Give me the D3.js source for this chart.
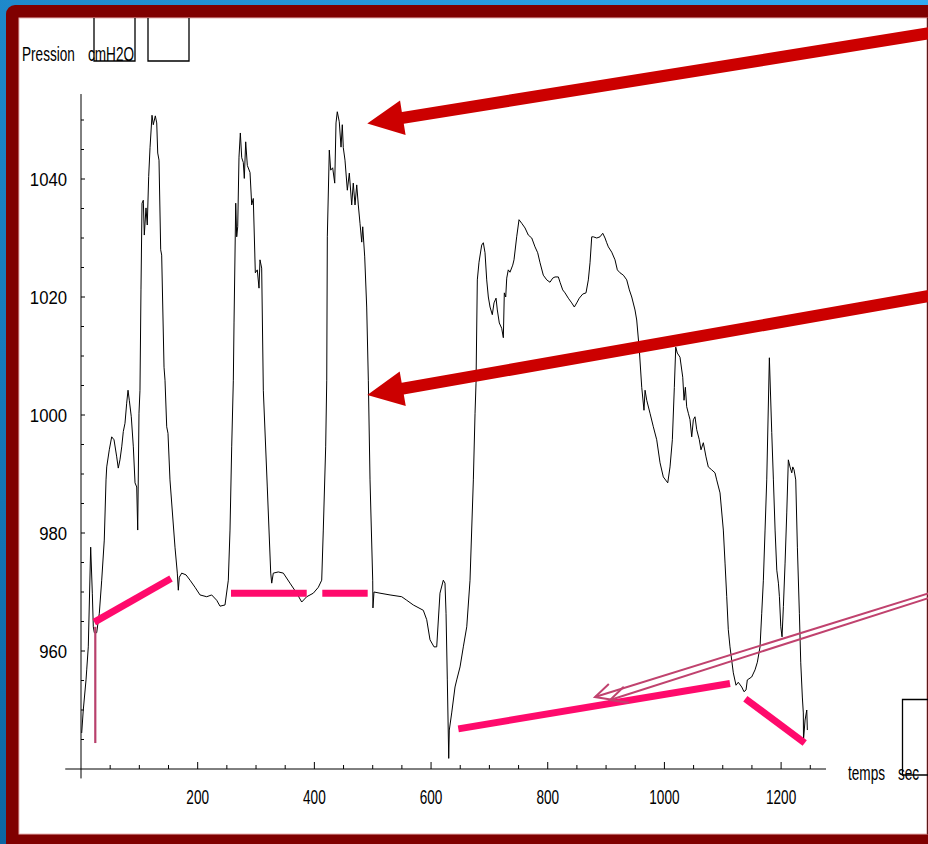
<!DOCTYPE html>
<html lang="fr">
<head>
<meta charset="UTF-8">
<title>Pression cmH2O en fonction du temps</title>
<script src="https://d3js.org/d3.v7.min.js"></script>
<style>
  body { margin: 0; background: #1a78b8; overflow: hidden; }
  svg { display: block; }
  text { font-family: "Liberation Sans", Arial, sans-serif; fill: #000; }
</style>
</head>
<body>
<div id="chart"></div>
<script>
const pressionTrace = [
  [1.2,946.1],[3.9,950.0],[8.6,955.1],[9.8,956.8],[12.5,960.7],[16.6,977.6],[19.4,969.8],[21.1,964.1],
  [22.8,963.1],[26.9,963.1],[31.4,966.4],[35.5,972.0],[39.9,978.8],[42.9,989.0],[44.1,991.2],[48.5,994.1],
  [52.6,996.3],[56.6,995.8],[61.2,992.9],[63.9,991.0],[66.8,992.4],[69.8,994.6],[72.5,997.2],[75.4,998.6],
  [78.3,1002.0],[80.6,1004.2],[82.8,1002.5],[86.2,999.7],[89.7,994.6],[92.6,988.5],[95.5,987.8],[97.2,980.5],
  [99.4,1000.3],[101.1,1004.2],
  // first peak
  [102.8,1021.2],[104.6,1035.9],[106.8,1036.4],[108.5,1030.5],[111.4,1035.1],[113.6,1032.2],[116.0,1040.4],
  [118.3,1045.3],[121.7,1050.8],[123.9,1049.2],[127.4,1050.7],[129.8,1049.5],[131.5,1044.4],[133.7,1043.2],
  [136.6,1028.0],[138.3,1027.1],[142.3,1008.1],[144.0,1005.9],[146.9,998.0],[149.1,996.9],[152.5,989.0],
  [161.1,977.6],[165.1,973.2],[166.8,970.3],[168.5,972.5],[172.6,973.2],[180.0,972.9],[186.9,972.0],
  [195.4,970.8],[204.0,969.5],[215.5,969.2],[224.0,969.5],[232.6,968.6],[238.3,967.6],[246.8,967.8],
  [252.5,972.0],[255.4,980.5],[258.3,994.6],[261.1,1005.9],
  // second peak
  [262.3,1015.6],[265.2,1035.9],[266.9,1030.2],[268.6,1031.9],[270.8,1043.7],[273.1,1047.8],[275.5,1043.6],
  [278.2,1042.8],[279.9,1040.1],[282.3,1046.3],[285.1,1042.3],[289.7,1041.1],[292.6,1035.6],[295.3,1036.7],
  [298.8,1024.1],[302.2,1024.6],[305.1,1021.5],[306.8,1026.3],[309.7,1024.9],[312.5,1004.2],[319.3,987.8],
  [325.2,973.2],[326.9,971.5],[329.6,973.2],[338.2,973.4],[346.8,973.2],[358.2,971.5],[369.7,969.8],
  [378.3,968.3],[386.9,969.2],[398.2,969.8],[406.8,970.8],[412.6,972.0],[415.3,980.5],[419.4,994.6],
  [421.2,1005.9],
  // third peak
  [422.2,1030.2],[425.6,1044.9],[428.0,1041.5],[431.4,1041.9],[434.9,1039.3],[437.1,1049.5],[439.3,1051.4],
  [442.7,1049.7],[445.7,1045.4],[447.9,1049.2],[449.6,1045.3],[452.5,1043.2],[456.5,1038.1],[459.9,1041.0],
  [464.0,1035.6],[466.7,1039.3],[469.7,1035.6],[472.6,1039.0],[475.3,1035.6],[478.2,1032.5],[481.2,1029.3],
  [482.9,1031.9],[486.3,1026.8],[489.7,1018.3],[492.5,1005.9],[495.4,989.0],[500.0,972.0],[500.4,967.3],
  [502.2,970.0],[512.5,969.8],[529.7,969.5],[549.7,969.2],[558.3,968.6],[569.6,967.8],[586.7,966.9],
  [592.6,965.3],[598.2,961.9],[605.1,960.7],[609.7,960.7],[615.3,969.8],[621.0,972.0],[623.9,971.5],
  [625.7,966.4],[627.9,955.1],[630.3,941.8],[631.3,946.6],[635.4,949.5],[641.1,953.9],[644.0,955.1],
  [649.7,957.3],[655.3,960.7],[661.2,964.1],[666.8,972.0],[672.5,989.0],[675.4,1000.3],[677.1,1005.4],
  // long plateau
  [679.3,1022.9],[682.2,1025.9],[686.8,1028.8],[689.6,1029.2],[692.5,1027.5],[695.4,1022.9],[698.2,1020.0],
  [701.1,1018.3],[705.0,1017.0],[707.9,1019.0],[711.4,1019.8],[713.6,1017.8],[717.0,1015.6],[721.1,1014.7],
  [723.9,1013.1],[725.6,1020.7],[728.0,1020.0],[729.7,1023.2],[732.4,1024.6],[735.3,1024.2],[740.0,1025.4],
  [742.2,1026.3],[746.8,1030.2],[750.8,1033.1],[755.4,1032.5],[761.1,1031.7],[766.7,1030.5],[772.6,1030.0],
  [778.2,1028.5],[782.8,1027.5],[786.8,1025.8],[792.4,1023.7],[798.3,1022.9],[803.9,1022.5],[808.5,1023.2],
  [812.5,1023.4],[818.2,1023.4],[821.1,1022.5],[825.7,1021.2],[829.6,1020.7],[835.3,1019.8],[841.1,1019.0],
  [845.6,1018.3],[849.7,1019.0],[854.1,1019.8],[860.0,1020.5],[865.6,1020.7],[869.6,1022.9],[872.5,1025.8],
  [875.4,1030.2],[878.2,1030.2],[884.0,1030.0],[889.6,1030.2],[894.3,1030.8],[898.2,1030.0],[901.1,1029.2],
  [903.9,1028.5],[909.7,1027.6],[915.3,1026.3],[919.3,1024.6],[923.9,1024.1],[929.6,1023.7],[935.4,1022.9],
  [939.9,1021.2],[944.0,1020.0],[949.6,1017.8],[952.5,1016.1],[957.0,1011.0],[961.1,1004.7],[965.0,1000.8],
  [966.8,1004.2],[969.7,1002.5],[975.3,1000.3],[981.0,998.0],[986.8,995.8],[992.5,991.9],[998.1,989.5],
  [1005.7,988.5],[1009.6,991.2],[1013.6,995.8],[1017.0,1004.7],[1019.4,1011.5],[1022.1,1010.5],[1026.7,1009.8],
  [1031.4,1006.4],[1033.6,1002.5],[1035.9,1004.7],[1038.2,1001.4],[1041.0,1000.3],[1043.9,999.2],[1046.8,996.3],
  [1049.6,999.2],[1052.4,999.7],[1055.4,997.5],[1059.8,995.8],[1062.7,994.1],[1066.7,995.3],[1071.3,992.9],
  [1075.2,991.2],[1081.1,990.7],[1086.7,990.2],[1089.6,989.0],[1095.3,986.8],[1101.0,980.5],[1103.9,974.9],
  [1106.8,969.2],[1109.5,963.6],[1112.4,960.7],[1118.1,956.3],[1122.7,954.2],[1126.6,954.7],[1132.5,953.9],
  [1136.4,953.1],[1139.9,953.4],[1142.1,955.1],[1149.6,955.6],[1155.3,956.8],[1159.3,958.1],[1163.9,960.7],
  [1166.8,966.4],[1169.6,972.0],[1172.5,980.5],[1175.4,989.0],[1179.9,1009.7],[1184.0,997.0],[1186.8,989.0],
  [1189.7,980.5],[1192.6,973.7],[1195.4,971.5],[1197.1,969.2],[1199.5,964.1],[1201.6,962.4],[1203.9,967.5],
  [1206.8,974.9],[1209.7,983.4],[1212.4,992.4],[1215.3,991.2],[1218.3,990.2],[1220.0,991.2],[1222.2,990.7],
  [1225.1,989.0],[1227.9,977.6],[1231.3,966.4],[1233.7,958.0],[1236.4,952.2],[1238.1,949.5],[1238.4,944.9],
  [1241.1,948.3],[1244.0,950.0],[1245.0,946.6]
];

const xTickLabels = [200, 400, 600, 800, 1000, 1200];
const yTickLabels = [960, 980, 1000, 1020, 1040];

// hand-drawn pink marks (temps, pression)
const pinkMarks = [
  [[22.8, 964.9], [154.3, 972.3]],
  [[257.1, 969.8], [386.9, 969.8]],
  [[413.6, 969.8], [491.4, 969.8]],
  [[646.7, 946.8], [1112.4, 954.5]],
  [[1138.7, 951.9], [1240.5, 944.4]]
];
const thinMark = [[24.5, 964.1], [24.5, 944.4]];

// big red arrows: [tail, tip]
const redArrows = [
  [[1460, 1064.8], [490.7, 1049.4]],
  [[1460, 1020.3], [490.7, 1003.4]]
];
// double thin arrow: two lines, each [tail, tip]
const doubleArrow = [
  [[1460, 970.0], [881.0, 952.2]],
  [[1460, 969.2], [906.8, 951.7]]
];

const W = 928, H = 844;
const svg = d3.select("#chart").append("svg").attr("width", W).attr("height", H);

// background, frame, white sheet
const defs = svg.append("defs");
const grad = defs.append("linearGradient").attr("id", "bg").attr("x1", "0%").attr("y1", "100%").attr("x2", "100%").attr("y2", "0%");
grad.append("stop").attr("offset", "0%").attr("stop-color", "#0d66a3");
grad.append("stop").attr("offset", "100%").attr("stop-color", "#30abf2");
svg.append("rect").attr("width", W).attr("height", H).attr("fill", "url(#bg)");
svg.append("rect").attr("x", 6).attr("y", 5).attr("width", W + 20).attr("height", H + 20)
  .attr("rx", 9).attr("fill", "#800000");
svg.append("rect").attr("x", 19).attr("y", 18).attr("width", 908).attr("height", 816)
  .attr("fill", "#fff").attr("stroke", "#e8b4b4").attr("stroke-width", 1);
svg.append("line").attr("x1", 927.5).attr("x2", 927.5).attr("y1", 18).attr("y2", 834)
  .attr("stroke", "#5a1818").attr("stroke-width", 1.2);

const x = d3.scaleLinear().domain([0, 1200]).range([81, 781.1]);
const y = d3.scaleLinear().domain([940, 1040]).range([769, 179]);

// helper for the narrow text used in the original
function narrow(g, px, py, str, size, anchor, sx) {
  g.append("text")
    .attr("transform", `translate(${px},${py}) scale(${sx || 0.68},1)`)
    .attr("text-anchor", anchor || "start")
    .style("font-size", size + "px")
    .text(str);
}

const axes = svg.append("g").attr("stroke", "#000").attr("stroke-width", 1);
// y axis
axes.append("line").attr("x1", x(0)).attr("x2", x(0)).attr("y1", y(1054.4)).attr("y2", y(938.4));
d3.range(945, 1051, 5).forEach(v => {
  axes.append("line").attr("x1", x(0)).attr("x2", x(0) + (v % 20 === 0 ? 4 : 3))
    .attr("y1", y(v)).attr("y2", y(v));
});
// x axis
axes.append("line").attr("x1", x(-27)).attr("x2", x(1277)).attr("y1", y(940)).attr("y2", y(940));
d3.range(50, 1251, 50).forEach(v => {
  axes.append("line").attr("x1", x(v)).attr("x2", x(v))
    .attr("y1", y(940)).attr("y2", y(940) - (v % 200 === 0 ? 7 : 4));
});

const labels = svg.append("g");
yTickLabels.forEach(v => narrow(labels, 67, y(v) + 7, v, 19, "end", 0.88));
xTickLabels.forEach(v => narrow(labels, x(v), 804, v, 20, "middle"));
narrow(labels, 22, 61, "Pression", 20);
narrow(labels, 88, 61, "cmH2O", 20);
narrow(labels, 848, 780, "temps", 20);
narrow(labels, 898, 780, "sec", 20);

// leftover empty boxes
const boxes = svg.append("g").attr("fill", "none").attr("stroke", "#000").attr("stroke-width", 1.3);
boxes.append("path").attr("d", "M94,18V61H135V18");
boxes.append("path").attr("d", "M148,18V61H189V18");
boxes.append("path").attr("d", "M928,699.5H902.5V775H928");

// pressure trace
const line = d3.line().x(d => x(d[0])).y(d => y(d[1]));
svg.append("path").datum(pressionTrace)
  .attr("d", line)
  .attr("fill", "none")
  .attr("stroke", "#000")
  .attr("stroke-width", 1)
  .attr("stroke-linejoin", "round");

// pink annotations
svg.append("g").selectAll("path").data(pinkMarks).join("path")
  .attr("d", line)
  .attr("stroke", "#ff0a6c").attr("stroke-width", 7).attr("fill", "none");
svg.append("path").datum(thinMark).attr("d", line)
  .attr("stroke", "#b8406c").attr("stroke-width", 2.2).attr("fill", "none");

// big red arrows
function arrowShape(tail, tip, shaftHalf, headLen, headHalf) {
  const dx = tail[0] - tip[0], dy = tail[1] - tip[1];
  const L = Math.hypot(dx, dy), ux = dx / L, uy = dy / L, nx = -uy, ny = ux;
  const bx = tip[0] + ux * headLen, by = tip[1] + uy * headLen;
  return [
    [tip[0], tip[1]],
    [bx + nx * headHalf, by + ny * headHalf],
    [bx + nx * shaftHalf, by + ny * shaftHalf],
    [tail[0] + nx * shaftHalf, tail[1] + ny * shaftHalf],
    [tail[0] - nx * shaftHalf, tail[1] - ny * shaftHalf],
    [bx - nx * shaftHalf, by - ny * shaftHalf],
    [bx - nx * headHalf, by - ny * headHalf]
  ];
}
svg.append("g").selectAll("polygon").data(redArrows).join("polygon")
  .attr("points", d => {
    const tail = [x(d[0][0]), y(d[0][1])], tip = [x(d[1][0]), y(d[1][1])];
    return arrowShape(tail, tip, 6, 36, 17.5).map(p => p.join(",")).join(" ");
  })
  .attr("fill", "#cc0000");

// double open arrow
const dbl = svg.append("g").attr("stroke", "#c0426e").attr("stroke-width", 2).attr("fill", "none");
doubleArrow.forEach(d => {
  const tail = [x(d[0][0]), y(d[0][1])], tip = [x(d[1][0]), y(d[1][1])];
  const ang = Math.atan2(tail[1] - tip[1], tail[0] - tip[0]);
  const spread = 26 * Math.PI / 180, len = 19;
  dbl.append("line").attr("x1", tail[0]).attr("y1", tail[1]).attr("x2", tip[0]).attr("y2", tip[1]);
  dbl.append("path").attr("d", d3.line()([
    [tip[0] + len * Math.cos(ang - spread), tip[1] + len * Math.sin(ang - spread)],
    tip,
    [tip[0] + len * Math.cos(ang + spread), tip[1] + len * Math.sin(ang + spread)]
  ]));
});
</script>
</body>
</html>
